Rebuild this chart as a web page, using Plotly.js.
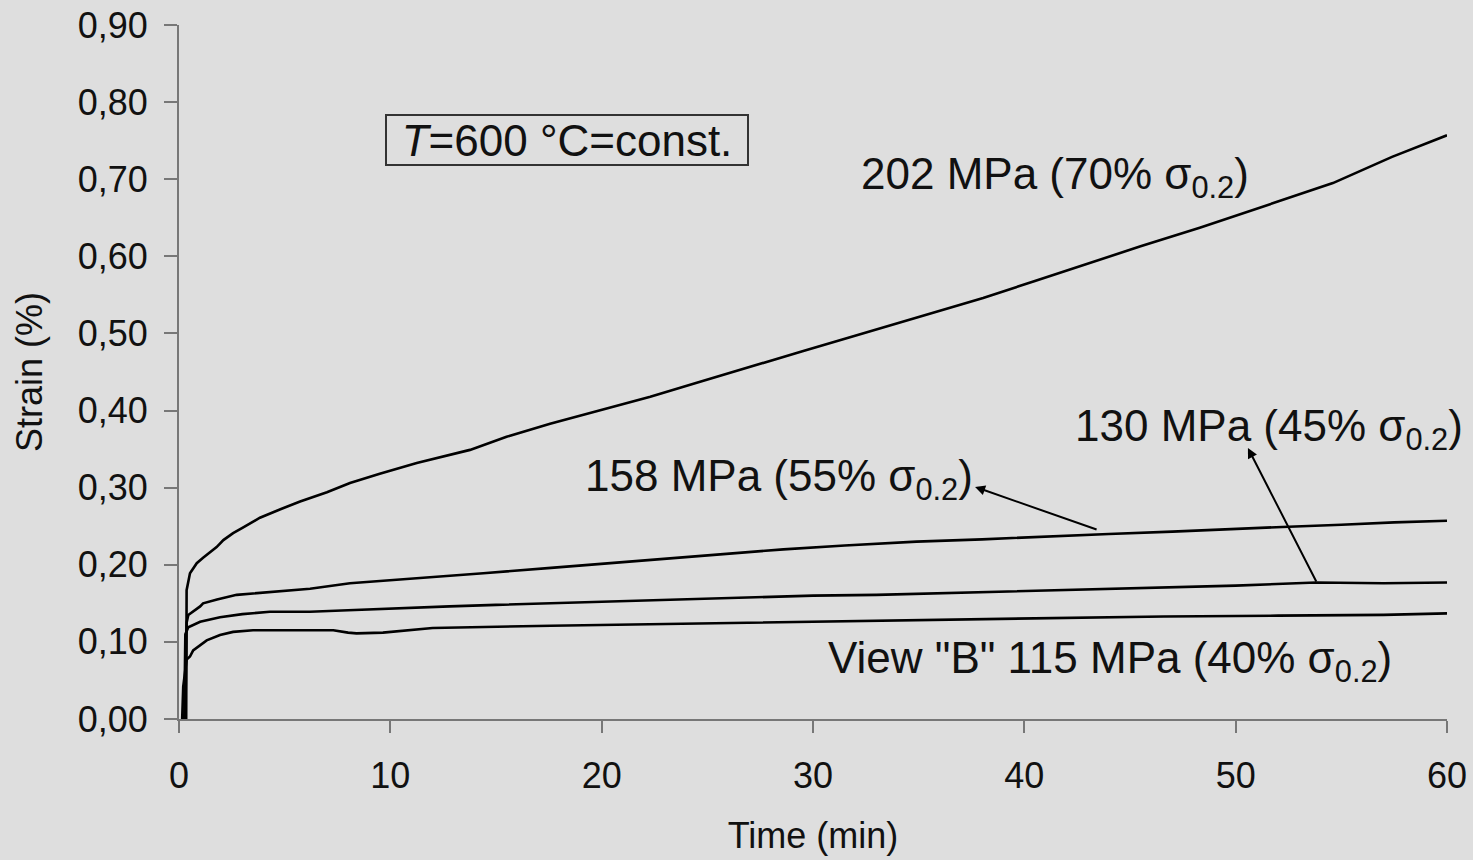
<!DOCTYPE html>
<html>
<head>
<meta charset="utf-8">
<script src="https://cdn.plot.ly/plotly-3.0.1.min.js"></script>
<style>html,body{margin:0;padding:0;background:#dedede;}#chart{width:1473px;height:860px;}</style>
</head>
<body>
<div id="chart"></div>
<script>
// Time (min) and strain (%)
const t202 = [0.34, 0.36, 0.36, 0.52, 0.84, 1.14, 1.78, 2.1, 2.56, 3.0, 3.83, 4.8, 5.73, 7.0, 8.09, 9.5, 11.25, 13.77, 15.5, 17.56, 20.0, 22.3, 24.5, 27.0, 29.5, 31.75, 35.0, 38.05, 40.5, 42.8, 45.5, 48.3, 51.5, 54.6, 57.4, 60.0];
const s202 = [0.0, 0.115, 0.167, 0.189, 0.202, 0.209, 0.223, 0.232, 0.241, 0.248, 0.261, 0.272, 0.282, 0.294, 0.306, 0.318, 0.332, 0.349, 0.366, 0.383, 0.401, 0.418, 0.436, 0.457, 0.477, 0.495, 0.521, 0.546, 0.568, 0.589, 0.613, 0.637, 0.666, 0.695, 0.729, 0.757];

const t158 = [0.3, 0.36, 0.44, 1.0, 1.14, 1.8, 2.73, 4.3, 6.2, 8.09, 11.25, 14.4, 17.6, 20.7, 24.0, 28.6, 31.5, 34.9, 38.0, 41.2, 44.0, 47.0, 50.0, 52.2, 55.0, 57.5, 60.0];
const s158 = [0.0, 0.125, 0.135, 0.146, 0.150, 0.155, 0.161, 0.165, 0.169, 0.176, 0.183, 0.189, 0.196, 0.203, 0.210, 0.220, 0.225, 0.230, 0.233, 0.237, 0.240, 0.243, 0.246, 0.249, 0.252, 0.255, 0.257];

const t130 = [0.25, 0.3, 0.44, 1.0, 1.94, 3.0, 4.3, 6.2, 8.0, 9.65, 12.8, 15.0, 17.6, 20.0, 23.0, 26.0, 30.0, 33.0, 36.0, 41.2, 44.0, 47.0, 50.0, 53.8, 57.0, 60.0];
const s130 = [0.0, 0.11, 0.119, 0.126, 0.132, 0.136, 0.139, 0.139, 0.141, 0.143, 0.146, 0.148, 0.150, 0.152, 0.155, 0.157, 0.160, 0.161, 0.163, 0.167, 0.169, 0.171, 0.173, 0.177, 0.176, 0.177];

const t115 = [0.15, 0.2, 0.36, 0.52, 0.67, 1.14, 1.31, 1.94, 2.56, 3.5, 4.93, 7.3, 8.0, 8.4, 9.65, 10.5, 12.0, 17.6, 25.0, 30.0, 35.0, 41.2, 46.6, 52.0, 57.0, 60.0];
const s115 = [0.0, 0.042, 0.077, 0.081, 0.089, 0.098, 0.102, 0.109, 0.113, 0.115, 0.115, 0.115, 0.112, 0.111, 0.112, 0.114, 0.118, 0.121, 0.124, 0.126, 0.128, 0.131, 0.133, 0.134, 0.135, 0.137];

const xTicks = [0, 10, 20, 30, 40, 50, 60];
const yTicks = [0, 0.1, 0.2, 0.3, 0.4, 0.5, 0.6, 0.7, 0.8, 0.9];

const lineStyle = {color: '#000000', width: 2.6};
const traces = [
  {x: t202, y: s202, mode: 'lines', line: lineStyle, name: '202 MPa'},
  {x: t158, y: s158, mode: 'lines', line: lineStyle, name: '158 MPa'},
  {x: t130, y: s130, mode: 'lines', line: lineStyle, name: '130 MPa'},
  {x: t115, y: s115, mode: 'lines', line: lineStyle, name: '115 MPa'}
];

const font = 'Liberation Sans, Arial, sans-serif';
const annFont = {size: 44, family: font, color: '#111111'};
const layout = {
  width: 1473, height: 860,
  paper_bgcolor: '#dedede', plot_bgcolor: '#dedede',
  margin: {l: 179, r: 26, t: 25, b: 141},
  showlegend: false,
  separators: ', ',
  font: {family: font, color: '#111111'},
  xaxis: {
    range: [0, 60], tickvals: xTicks, ticks: 'outside', ticklen: 12, tickwidth: 2, tickcolor: '#777777',
    showline: true, linecolor: '#777777', linewidth: 2, showgrid: false, zeroline: false,
    ticklabelstandoff: 12,
    tickfont: {size: 36, family: font, color: '#111111'},
    title: {text: 'Time (min)', font: {size: 36, family: font, color: '#111111'}, standoff: 28}
  },
  yaxis: {
    range: [0, 0.9], tickvals: yTicks, tickformat: '.2f', ticks: 'outside', ticklen: 13, tickwidth: 2, tickcolor: '#777777',
    showline: true, linecolor: '#777777', linewidth: 2, showgrid: false, zeroline: false,
    ticklabelstandoff: 9,
    tickfont: {size: 36, family: font, color: '#111111'},
    title: {text: 'Strain (%)', font: {size: 36, family: font, color: '#111111'}, standoff: 24}
  },
  annotations: [
    {x: 18.36, y: 0.751, xref: 'x', yref: 'y', text: '<i>T</i>=600 °C=const.', showarrow: false,
     font: annFont, bordercolor: '#333333', borderwidth: 2, borderpad: 0,
     width: 360, height: 48},
    {x: 32.2, y: 0.703, xref: 'x', yref: 'y', xanchor: 'left', yanchor: 'middle', showarrow: false,
     text: '202 MPa (70% σ<sub>0.2</sub>)', font: annFont},
    {x: 19.1, y: 0.311, xref: 'x', yref: 'y', xanchor: 'left', yanchor: 'middle', showarrow: false,
     text: '158 MPa (55% σ<sub>0.2</sub>)', font: annFont},
    {x: 42.3, y: 0.376, xref: 'x', yref: 'y', xanchor: 'left', yanchor: 'middle', showarrow: false,
     text: '130 MPa (45% σ<sub>0.2</sub>)', font: annFont},
    {x: 30.6, y: 0.075, xref: 'x', yref: 'y', xanchor: 'left', yanchor: 'middle', showarrow: false,
     text: 'View "B" 115 MPa (40% σ<sub>0.2</sub>)', font: annFont},
    {x: 37.67, y: 0.301, ax: 43.49, ay: 0.245, xref: 'x', yref: 'y', axref: 'x', ayref: 'y', text: '',
     showarrow: true, arrowhead: 2, arrowsize: 1, arrowwidth: 2, arrowcolor: '#000000', standoff: 0},
    {x: 50.58, y: 0.3515, ax: 53.85, ay: 0.1764, xref: 'x', yref: 'y', axref: 'x', ayref: 'y', text: '',
     showarrow: true, arrowhead: 2, arrowsize: 1, arrowwidth: 2, arrowcolor: '#000000', standoff: 0}
  ]
};

Plotly.newPlot('chart', traces, layout, {displayModeBar: false, staticPlot: true});
</script>
</body>
</html>
